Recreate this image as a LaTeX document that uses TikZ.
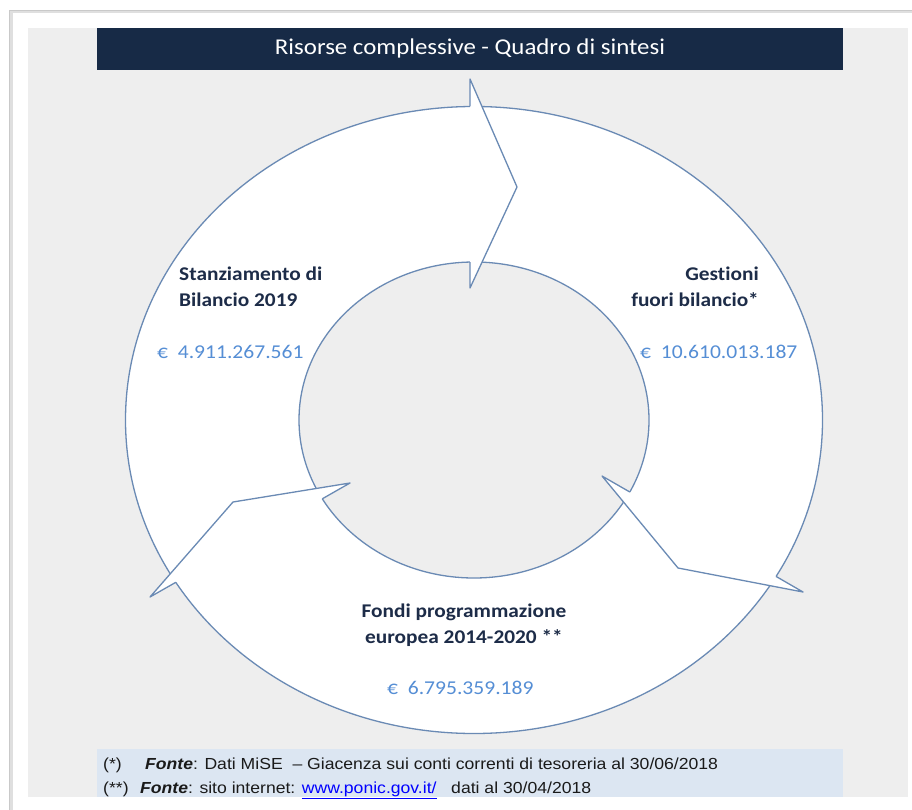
\documentclass[tikz,border=0pt]{standalone}
\usepackage{fontspec}
\newfontfamily\calib[FakeStretch=1.1,Ligatures=NoCommon]{Carlito}
\newfontfamily\notefont[FakeStretch=1.1]{Liberation Sans}
\definecolor{panelgray}{HTML}{EEEEEE}
\definecolor{framegray}{HTML}{C9C9C9}
\definecolor{titlenavy}{HTML}{172A46}
\definecolor{ringblue}{HTML}{6A8AB4}
\definecolor{labelnavy}{HTML}{1D2C48}
\definecolor{valueblue}{HTML}{558ED5}
\definecolor{notefill}{HTML}{DCE6F2}
\definecolor{notetext}{HTML}{1A1A1A}
\definecolor{linkblue}{HTML}{0000FF}
\begin{document}
\begin{tikzpicture}[x=1pt,y=-1pt,
  ringline/.style={draw=ringblue,line width=1.3pt,line join=round},
  headfill/.style={fill=white},
  headshadow/.style={fill=black,fill opacity=0.15},
  label/.style={text=labelnavy,font=\calib\bfseries\fontsize{19.4}{26}\selectfont,inner sep=0pt},
  amount/.style={text=valueblue,font=\calib\fontsize{19.6}{23}\selectfont,inner sep=0pt},
  note/.style={text=notetext,font=\notefont\fontsize{16}{18}\selectfont,inner sep=0pt,anchor=base west}]
\useasboundingbox (0,0) rectangle (912,810);
\fill[white] (0,0) rectangle (912,810);
% frame and panel
\draw[framegray!60,line width=3pt] (11,812) -- (11,12) -- (914,12);
\draw[framegray,line width=0.8pt] (9,812) -- (9,10) -- (914,10);
\fill[panelgray] (28,28) rectangle (908,797);
% title bar
\fill[titlenavy] (97,28) rectangle (843,70);
\node[text=white,font=\calib\fontsize{22.6}{26}\selectfont,inner sep=0pt] (title) at (470,48) {Risorse complessive - Quadro di sintesi};
% ring geometry
\coordinate (c) at (474,420);
% top arrowhead
\coordinate (tA) at (470,79);
\coordinate (tT) at (517,187);
\coordinate (tB) at (470,288);
\coordinate (tAo) at (470,106.5);
\coordinate (tBi) at (470,262);
% right arrowhead
\coordinate (rA) at (803,592);
\coordinate (rT) at (678,568);
\coordinate (rB) at (602,476);
\coordinate (rAo) at (776,576.4);
\coordinate (rBi) at (629.8,492);
% left arrowhead
\coordinate (lA) at (150,597);
\coordinate (lT) at (233,502);
\coordinate (lB) at (350,483);
\coordinate (lAo) at (175.8,582.3);
\coordinate (lBi) at (322.3,498.8);
% soft shadows under the arrowheads
\foreach \d in {2,3.5,5}{
  \foreach \a/\t/\b in {tA/tT/tB, rA/rT/rB, lA/lT/lB}{
    \fill[headshadow,shift={(\d,\d)}] (\a) -- (\t) -- (\b) -- cycle;
  }
}
% ring body
\fill[white,even odd rule] (c) ellipse [x radius=348.5,y radius=313.5]
                           (c) ellipse [x radius=175,y radius=158];
\draw[ringline] (c) ellipse [x radius=348.5,y radius=313.5];
\draw[ringline] (c) ellipse [x radius=175,y radius=158];
% arrowheads
\foreach \a/\t/\b in {tA/tT/tB, rA/rT/rB, lA/lT/lB}{
  \fill[headfill] (\a) -- (\t) -- (\b) -- cycle;
}
\draw[ringline] (tAo) -- (tA) -- (tT) -- (tB) -- (tBi);
\draw[ringline] (rBi) -- (rB) -- (rT) -- (rA) -- (rAo);
\draw[ringline] (lAo) -- (lA) -- (lT) -- (lB) -- (lBi);
% segment labels
\node[label,align=left,anchor=west] (stanz) at (179,287) {Stanziamento di\\Bilancio 2019};
\node[amount,anchor=west] (stanzv) at (157,352) {€\ \ 4.911.267.561};
\node[label,align=right,anchor=east] (gest) at (759,287) {Gestioni\\fuori bilancio*};
\node[amount,anchor=west] (gestv) at (640,352) {€\ \ 10.610.013.187};
\node[label,align=center] (fondi) at (464,625) {Fondi programmazione\\europea 2014-2020 **};
\node[amount,anchor=west] (fondiv) at (387,688) {€\ \ 6.795.359.189};
% sources
\fill[notefill] (97,749) rectangle (843,797);
\node[note] (n1a) at (103,769) {(*)};
\node[note] (n1b) at (145,769) {\textbf{\textit{Fonte}}: Dati MiSE\ \ – Giacenza sui conti correnti di tesoreria al 30/06/2018};
\node[note] (n2a) at (103,793) {(**)};
\node[note] (n2b) at (140,793) {\textbf{\textit{Fonte}}: sito internet: \textcolor{linkblue}{\underline{www.ponic.gov.it/}}\ \ \ dati al 30/04/2018};
\end{tikzpicture}
\end{document}
